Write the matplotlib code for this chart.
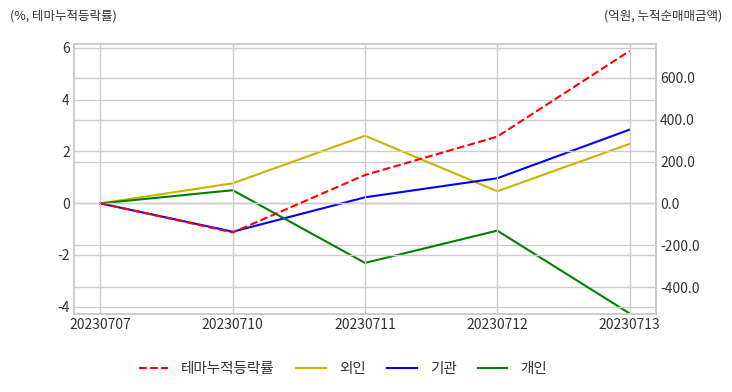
import matplotlib
matplotlib.use("Agg")
import matplotlib.pyplot as plt

plt.rcParams['font.family'] = ['Noto Sans CJK KR', 'DejaVu Sans']

dates = ["20230707", "20230710", "20230711", "20230712", "20230713"]
theme_rate = [0.0, -1.13, 1.09, 2.57, 5.88]
foreign = [0.0, 96, 323, 58, 284]
institution = [0.0, -135, 29, 120, 352]
individual = [0.0, 63, -284, -130, -525]

fig = plt.figure(figsize=(7.32, 3.92), dpi=100)
ax = fig.add_axes([74/732, 1-314/392, 582/732, 270/392])
ax2 = ax.twinx()

x = list(range(len(dates)))
grid_c = "#cccccc"
for a in (ax, ax2):
    a.set_facecolor("none")
    for s in a.spines.values():
        s.set_color(grid_c)
        s.set_linewidth(1.2)
    a.grid(True, color=grid_c, linewidth=1.0)
    a.tick_params(length=0, labelsize=10, colors="#333333", pad=3)
ax.set_zorder(ax2.get_zorder() + 1)
ax.patch.set_visible(False)

l1, = ax.plot(x, theme_rate, color="red", linestyle="--", linewidth=1.5, label="테마누적등락률")
l2, = ax2.plot(x, foreign, color="#c8b400", linewidth=1.5, label="외인")
l3, = ax2.plot(x, institution, color="blue", linewidth=1.5, label="기관")
l4, = ax2.plot(x, individual, color="green", linewidth=1.5, label="개인")

ax.set_xlim(-0.2, 4.2)
ax.set_xticks(x)
ax.set_xticklabels(dates)
ax.set_ylim(-4.28, 6.15)
ax.set_yticks([-4, -2, 0, 2, 4, 6])
ax.set_yticklabels(["-4", "-2", "0", "2", "4", "6"])
ax2.set_ylim(-528, 761)
ax2.set_yticks([-400, -200, 0, 200, 400, 600])
ax2.set_yticklabels([f"{v:.1f}" for v in [-400, -200, 0, 200, 400, 600]])

fig.text(10/732, 1-16/392, "(%, 테마누적등락률)", fontsize=9, color="#333333", va="center", ha="left")
fig.text(722/732, 1-16/392, "(억원, 누적순매매금액)", fontsize=9, color="#333333", va="center", ha="right")

fig.legend(handles=[l1, l2, l3, l4], loc="center", bbox_to_anchor=(343/732, 1-369/392),
           ncol=4, frameon=False, fontsize=10.5, handlelength=2.0, handletextpad=0.9,
           columnspacing=1.5, labelcolor="#333333")

fig.savefig("out.png", dpi=100)
